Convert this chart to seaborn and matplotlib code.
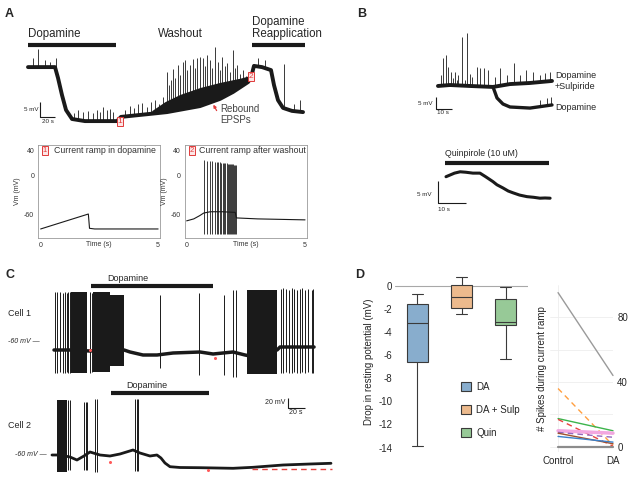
import numpy as np
import pandas as pd
import matplotlib.pyplot as plt
import seaborn as sns

W, H = 631, 484

# ---------------- panel A: dopamine / washout / reapplication (s, mV) ----------------
a_t = [0, 36, 40, 45.3, 50.7, 58.7, 76, 118.7, 124, 162.7, 185.3, 229.3, 256, 273.3, 293.3,
       297.3, 301.3, 312, 324, 328, 333.3, 340, 352, 366.7]
a_v = [19.3, 19.3, 15.7, 10, 5, 2, 1.3, 1.3, 2.7, 3.7, 4.3, 6.3, 8.7, 11, 14.3,
       15.7, 19.7, 19.3, 18.3, 13.3, 8.3, 5.7, 4.7, 4.3]
a_spk_t = [6.7, 13.3, 22.7, 29.3, 37.3,
           61.3, 66.7, 73.3, 80, 86.7, 92, 96, 100, 105.3, 109.3, 113.3,
           129.3, 136, 141.3, 146.7, 152, 158.7, 164, 169.3, 174.7, 180,
           185.3, 188, 190.7, 193.3, 196, 200, 202.7, 206.7, 209.3, 212, 216, 220, 222.7,
           225.3, 229.3, 233.3, 236, 238.7, 242.7, 245.3, 249.3, 253.3, 256, 258.7, 262.7,
           265.3, 269.3, 273.3, 276, 278.7, 282.7, 286.7, 290.7,
           306.7, 316, 341.3, 354.7, 362.7]
a_spk_v = [22.3, 25.3, 21.7, 21, 22.3,
           4, 5, 4.3, 4.7, 4, 5, 4.3, 6, 5, 5.3, 4.3,
           5, 6.3, 5.7, 7, 7.3, 6, 7.7, 8.3, 7, 9.3,
           17.7, 13.3, 15, 18.7, 15.7, 20, 16.7, 21, 21.7, 18.3, 20, 22, 19,
           22.3, 22.7, 22.3, 19.7, 23.3, 21.7, 19, 26, 21, 18.3, 22.7, 19.7,
           20.7, 17.7, 25, 19, 20, 17, 18.3, 16.3,
           22.3, 21.7, 20.3, 7, 8.3]
# upper edge of the dense EPSP barrage during washout
a_env_t = [165, 182.7, 202.7, 229.3, 256, 282.7, 296]
a_env_v = [4.8, 7.8, 10.2, 12.5, 14.2, 15.6, 16.5]

# current ramps (s, mV)
r1_t = [0, 2.03, 2.08, 2.3, 5.0]
r1_v = [-81.5, -58.5, -80.5, -81.5, -81.5]
r2_t = [0, 0.3, 0.55, 0.72, 1.0, 1.5, 2.05, 2.1, 3.0, 5.0]
r2_v = [-69, -66, -61, -57, -55, -55, -56, -64.5, -66, -67.5]
r2_spk_t = [0.74, 0.87, 0.98, 1.08, 1.18, 1.27, 1.34, 1.41, 1.47, 1.52, 1.58,
            1.63, 1.69, 1.75, 1.80, 1.84, 1.88, 1.93, 1.97, 2.01, 2.05, 2.08]
r2_spk_top = [24, 23.5, 23, 22.5, 22, 21.5, 21, 21, 20.5, 20, 20,
              19.5, 19.5, 19, 19, 18.5, 18.5, 18, 18, 17.5, 17.5, 17]
r2_spk_bot = -90

# ---------------- panel B ----------------
bu_t = [0, 7.5, 20, 34.4, 45, 57.5, 71.25]
bu_v = [10, 10.4, 10, 9.6, 10.8, 11.25, 12.1]
bl_t = [34.4, 36.9, 40.6, 45, 57.5, 71.25]
bl_v = [9.6, 5, 2.5, 1.25, 0.8, 2.1]
bu_spk_t = [1.9, 3.1, 5, 6.25, 8.1, 9.4, 10.6, 11.9, 12.5, 15, 16.9, 18.1, 20, 21.25, 24.4,
            26.25, 28.75, 31.25, 35.6, 38.75, 43.1, 47.5, 51.25, 55, 59.4, 63.75, 66.9, 70]
bu_spk_v = [14.6, 21.7, 22.9, 17.9, 15.8, 13.3, 15.8, 12.5, 14.6, 30.4, 12.5, 32.1, 15, 13.75, 17.9,
            17.5, 17.5, 16.7, 13.75, 17.5, 14.6, 19.6, 14.6, 16.7, 15.8, 14.6, 15.4, 15.8]
bl_spk_t = [63.75, 68.1, 70.6]
bl_spk_v = [4.2, 5, 5.4]

q_t = [0, 1.5, 3, 5, 7, 9.5, 12, 14, 16.6, 18, 20.1, 22, 23.7, 26, 28.6, 31, 33.2, 35, 36.8]
q_v = [5.2, 5.6, 6.0, 6.3, 6.2, 6.0, 6.0, 5.2, 4.1, 3.4, 2.7, 2.0, 1.6, 1.1, 0.75, 0.6, 0.4, 0.45, 0.4]

# ---------------- panel C ----------------
c1_t = [0, 18.8, 42.4, 65.9, 82.4, 89.4, 104.7, 121.2, 140, 171.8, 187.1, 210.6, 224.7,
        230.6, 244.7, 262.4, 265.9, 305.9]
c1_v = [-78, -78, -80, -78, -78, -82, -88, -88, -84, -82, -86, -82, -88,
        -90, -82, -78, -72, -72]
c1_spk_t = [1.2, 3.9, 7.1, 10.2, 12.9, 14.9, 16.8, 18.8, 42.4, 45.1, 124.7, 170.6,
            200, 211, 213.7, 266.7, 269.8, 272.9, 276.1, 279.6, 282.7, 285.5, 289.4,
            291.4, 295.3, 299.2, 303.2, 305.1]
c1_spk_top = [38, 38, 38, 36, 38, 36, 38, 38, 38, 36, 32, 36,
              32, 42, 42, 44, 46, 44, 42, 46, 44, 42, 44, 46, 42, 44, 42, 44]
c1_spk_bot = [-124, -124, -122, -124, -124, -122, -124, -124, -124, -122, -114, -128,
              -128, -132, -132, -124, -124, -122, -124, -124, -122, -124, -124, -122,
              -124, -122, -124, -124]
# bursts: start, end, top, bottom
c1_burst = [(19.6, 39.2, 38, -124), (46.2, 65.9, 38, -122), (65.9, 82.4, 32, -110),
            (226.7, 262.0, 42, -126)]
c1_marks_t = [42.4, 189.4]
c1_marks_v = [-78, -93]

c2_t = [0, 9.4, 21.2, 29.4, 37.6, 44.7, 56.5, 68.2, 80, 95.3, 103.5, 115.3, 123.5, 128.2,
        132.9, 138.8, 150.6, 174.1, 213, 236.5, 271.8, 303.5, 328.2]
c2_v = [-62, -62, -66, -72, -64, -56, -62, -64, -60, -52, -58, -64, -62, -68,
        -78, -85.4, -87, -87.4, -88.6, -86.6, -82, -80, -78.6]
c2_spk_t = [18.8, 21.2, 38, 40, 41.5, 50.6, 52.6, 97.6, 99.6, 101.2]
c2_spk_top = [48, 48, 44, 44, 44, 50, 50, 50, 50, 50]
c2_spk_bot = [-92, -92, -92, -92, -92, -96, -96, -94, -94, -94]
c2_burst = [(5.9, 17.6, 48, -96)]
c2_marks_t = [68.2, 183.5]
c2_marks_v = [-75, -91]
c2_ref_t = [235.3, 329.4]
c2_ref_v = [-90, -90]

# ---------------- panel D ----------------
box_cond = ["DA", "DA + Sulp", "Quin"]
box_colors = ["#7daed8", "#fcb97d", "#8fd18f"]
da_drop = [-13.9, -6.6, -3.2, -1.55, -0.7]
sulp_drop = [-2.4, -1.9, -0.95, 0.1, 0.75]
quin_drop = [-6.3, -3.4, -3.1, -1.1, -0.1]

ramp_cells = ["c1", "c2", "c3", "c4", "c5", "c6", "c7", "c8", "c9"]
spk_control = [95, 36, 17.5, 17, 10, 9, 8.5, 6.5, 0]
spk_da = [44, 1, 10, 0.5, 8.5, 6, 2, 3, 0]
cell_colors = ["#9a9a9a", "#ff9f40", "#3cb44b", "#e8423f", "#f2a7e0", "#9467bd", "#a0522d",
               "#3a80c9", "#8c8c8c"]
cell_dashed = [False, True, False, True, False, True, False, False, False]
cell_lw = [1.0, 1.0, 1.0, 1.0, 2.5, 1.0, 1.0, 1.0, 1.6]

sns.set_theme(style="white")
plt.rcParams["font.family"] = ["Liberation Sans", "DejaVu Sans"]
plt.rcParams["axes.unicode_minus"] = False

fig = plt.figure(figsize=(W / 100, H / 100), dpi=100)


def fx(x):
    return x / W


def fy(y):
    return 1 - y / H


def px_axes(x0, y0, x1, y1):
    return fig.add_axes([x0 / W, 1 - y1 / H, (x1 - x0) / W, (y1 - y0) / H])


def trace_axes(x0, y0, x1, y1, xlim, ylim):
    ax = px_axes(x0, y0, x1, y1)
    ax.set_xlim(xlim)
    ax.set_ylim(ylim)
    ax.axis("off")
    return ax


def trace(ax, t, v, lw=1.6, color="k", **kw):
    sns.lineplot(x=t, y=v, ax=ax, color=color, lw=lw, sort=False, estimator=None,
                 legend=False, **kw)


def spikes(ax, t, top, base_t, base_v, lw=0.6):
    base = np.interp(t, base_t, base_v)
    ax.vlines(t, base, top, color="k", lw=lw)


def scalebar(ax, x0, y0, dx, dy, lw=0.8):
    ax.plot([x0, x0, x0 + dx], [y0 + dy, y0, y0], color="k", lw=lw, solid_capstyle="butt")


def red_tag(ax, x, y, s, transform=None, fs=6):
    ax.text(x, y, s, color="#e03a3a", fontsize=fs, ha="center", va="center",
            transform=transform or ax.transData,
            bbox=dict(boxstyle="square,pad=0.12", fc="#fde6e6", ec="#e03a3a", lw=0.7))


# ---------------- A ----------------
fig.text(fx(5), fy(14), "A", fontsize=9, fontweight="bold", va="center")
axa = trace_axes(20, 20, 320, 140, (-10.67, 389.33), (-5, 35))
trace(axa, a_t, a_v, lw=2.8)
env_base = np.interp(a_env_t, a_t, a_v)
axa.fill_between(a_env_t, env_base, a_env_v, color="k", lw=0)
spikes(axa, a_spk_t, a_spk_v, a_t, a_v)
axa.plot([0, 117.3], [26.7, 26.7], color="k", lw=3, solid_capstyle="butt")
axa.plot([298.7, 369.3], [26.7, 26.7], color="k", lw=3, solid_capstyle="butt")
axa.text(0, 28.2, "Dopamine", fontsize=8.3, va="bottom")
axa.text(202.7, 28.2, "Washout", fontsize=8.3, va="bottom", ha="center")
axa.text(298.7, 28.2, "Dopamine\nReapplication", fontsize=8.3, va="bottom", linespacing=1.05)
scalebar(axa, 16, 2.7, 20, 5)
axa.text(14, 5.2, "5 mV", fontsize=4.5, ha="right", va="center")
axa.text(18, 2.0, "20 s", fontsize=4.5, ha="left", va="top")
red_tag(axa, 122.7, 1.3, "1")
red_tag(axa, 297.3, 16, "2")
axa.annotate("", xy=(245.3, 7.6), xytext=(253.3, 4.0),
             arrowprops=dict(arrowstyle="-|>", color="#e03a3a", lw=0.9, mutation_scale=4))
axa.text(256, 7.0, "Rebound\nEPSPs", fontsize=7, va="top", color="#444444", linespacing=1.1)


def ramp_axes(x0, x1):
    ax = px_axes(x0, 145, x1, 238)
    ax.set_ylim(-95.4, 47.7)
    ax.set_xticks([0, 5])
    ax.set_yticks([-60, 0, 40])
    ax.tick_params(labelsize=5, length=1.5, width=0.5, pad=1.5, colors="#333333")
    for s in ax.spines.values():
        s.set_color("#9a9a9a")
        s.set_linewidth(0.6)
    ax.set_xlabel("Time (s)", fontsize=5, labelpad=-6, color="#333333")
    ax.set_ylabel("Vm (mV)", fontsize=5, labelpad=2, color="#333333")
    return ax


axr1 = ramp_axes(38.3, 160)
axr1.set_xlim(-0.1, 5.08)
trace(axr1, r1_t, r1_v, lw=0.8)
red_tag(axr1, 0.055, 0.94, "1", transform=axr1.transAxes, fs=5.5)
axr1.text(0.125, 0.94, "Current ramp in dopamine", transform=axr1.transAxes,
          fontsize=6.3, va="center", color="#333333")

axr2 = ramp_axes(185, 306.7)
axr2.set_xlim(-0.07, 5.07)
trace(axr2, r2_t, r2_v, lw=0.8)
axr2.vlines(r2_spk_t, r2_spk_bot, r2_spk_top, color="k", lw=0.6)
red_tag(axr2, 0.055, 0.94, "2", transform=axr2.transAxes, fs=5.5)
axr2.text(0.115, 0.94, "Current ramp after washout", transform=axr2.transAxes,
          fontsize=6.3, va="center", color="#333333")

# ---------------- B ----------------
fig.text(fx(357), fy(14), "B", fontsize=9, fontweight="bold", va="center")
axb = trace_axes(405, 25, 560, 120, (-20.6, 76.25), (-4.17, 35.4))
trace(axb, bu_t, bu_v, lw=2.8)
trace(axb, bl_t, bl_v, lw=2.4)
spikes(axb, bu_spk_t, bu_spk_v, bu_t, bu_v)
spikes(axb, bl_spk_t, bl_spk_v, bl_t, bl_v)
axb.text(73.1, 14.2, "Dopamine", fontsize=6.5, va="center")
axb.text(73.1, 9.6, "+Sulpiride", fontsize=6.5, va="center")
axb.text(73.1, 0.9, "Dopamine", fontsize=6.5, va="center")
scalebar(axb, -1.25, 0.4, 10, 5)
axb.text(-3.5, 2.6, "5 mV", fontsize=4.5, ha="right", va="center")
axb.text(-0.6, -0.2, "10 s", fontsize=4.5, va="top")

axq = trace_axes(405, 140, 560, 220, (-14.5, 40.3), (-4.47, 13.4))
trace(axq, q_t, q_v, lw=2.2)
axq.plot([-0.35, 36.4], [8.35, 8.35], color="k", lw=3, solid_capstyle="butt")
axq.text(-0.35, 9.3, "Quinpirole (10 uM)", fontsize=6.3, va="bottom")
scalebar(axq, -2.83, -0.74, 10, 5)
axq.text(-5.0, 1.27, "5 mV", fontsize=4.5, ha="right", va="center")
axq.text(-2.83, -1.6, "10 s", fontsize=4.5, va="top")

# ---------------- C ----------------
fig.text(fx(5), fy(275), "C", fontsize=9, fontweight="bold", va="center")
axc1 = trace_axes(45, 270, 320, 380, (-10.6, 312.9), (-138, 82))
for t0, t1, top, bot in c1_burst:
    axc1.fill_between([t0, t1], [bot, bot], [top, top], color="k", lw=0)
trace(axc1, c1_t, c1_v, lw=2.5)
axc1.vlines(c1_spk_t, c1_spk_bot, c1_spk_top, color="k", lw=0.7)
axc1.plot(c1_marks_t, c1_marks_v, "o", color="#ff5a5a", ms=1.2)
axc1.plot([43.2, 187.4], [50.6, 50.6], color="k", lw=3, solid_capstyle="butt")
axc1.text(86.7, 56, "Dopamine", fontsize=6.5, ha="center", va="bottom")
fig.text(fx(8), fy(313), "Cell 1", fontsize=6.5, va="center")
fig.text(fx(8), fy(341.7), "-60 mV \u2014", fontsize=5, va="center", style="italic")

axc2 = trace_axes(45, 380, 340, 480, (-8.2, 338.8), (-112, 88))
for t0, t1, top, bot in c2_burst:
    axc2.fill_between([t0, t1], [bot, bot], [top, top], color="k", lw=0)
trace(axc2, c2_t, c2_v, lw=2.0)
axc2.vlines(c2_spk_t, c2_spk_bot, c2_spk_top, color="k", lw=0.7)
sns.lineplot(x=c2_ref_t, y=c2_ref_v, ax=axc2, color="#e8423f", lw=1.0,
             estimator=None, legend=False)
axc2.lines[-1].set_linestyle((0, (4, 3)))
axc2.plot(c2_marks_t, c2_marks_v, "o", color="#ff5a5a", ms=1.2)
axc2.plot([69, 184.7], [61.4, 61.4], color="k", lw=3, solid_capstyle="butt")
axc2.text(111.4, 67, "Dopamine", fontsize=6.5, ha="center", va="bottom")
scalebar(axc2, 277.3, 32.6, 20, 20)
axc2.text(274, 42, "20 mV", fontsize=5, ha="right", va="center")
axc2.text(279, 30, "20 s", fontsize=5, va="top")
fig.text(fx(8), fy(426), "Cell 2", fontsize=6.5, va="center")
fig.text(fx(15), fy(454.3), "-60 mV \u2014", fontsize=5, va="center", style="italic")

# ---------------- D ----------------
fig.text(fx(355), fy(275), "D", fontsize=9, fontweight="bold", va="center")
box_df = pd.DataFrame({
    "cond": [box_cond[0]] * 5 + [box_cond[1]] * 5 + [box_cond[2]] * 5,
    "drop": da_drop + sulp_drop + quin_drop,
})
axd = px_axes(395, 272, 528, 452)
axd.axhline(0, color="#a8a8a8", lw=0.8, zorder=0)
sns.boxplot(data=box_df, x="cond", y="drop", hue="cond", palette=box_colors,
            width=0.48, linewidth=0.8, linecolor="#3a3a3a", ax=axd, legend=True)
axd.set_xlim(-0.51, 2.51)
axd.set_ylim(-14.39, 1.21)
axd.set_yticks(np.arange(-14, 1, 2))
axd.set_xticks([])
axd.set_xlabel("")
axd.set_ylabel("Drop in resting potential (mV)", fontsize=7, labelpad=3)
axd.tick_params(axis="y", labelsize=7, length=0, pad=2)
sns.despine(ax=axd, left=True, bottom=True)
sns.move_legend(axd, "upper left", bbox_to_anchor=(0.43, 0.44), frameon=False, title=None,
                fontsize=7, labelspacing=1.35, handlelength=1.0, handleheight=1.0,
                handletextpad=0.6)

axs = px_axes(549.8, 285, 613, 452)
for i, cell in enumerate(ramp_cells):
    sns.lineplot(x=[0, 1], y=[spk_control[i], spk_da[i]], ax=axs, color=cell_colors[i],
                 lw=cell_lw[i], estimator=None, legend=False, zorder=3)
    if cell_dashed[i]:
        axs.lines[-1].set_linestyle((0, (4, 3)))
    axs.lines[-1].set_clip_on(False)
axs.set_xlim(-0.15, 1.0)
axs.set_ylim(-3.08, 99.7)
axs.set_xticks([0, 1])
axs.set_xticklabels(["Control", "DA"])
axs.set_yticks([0, 40, 80])
axs.set_yticks([20, 60], minor=True)
axs.yaxis.tick_right()
axs.yaxis.set_label_position("left")
axs.set_ylabel("# Spikes during current ramp", fontsize=7, labelpad=2)
axs.tick_params(axis="both", which="both", labelsize=7, length=0, pad=3)
axs.grid(True, which="both", color="#eeeeee", lw=0.6)
sns.despine(ax=axs, left=True, bottom=True)

fig.savefig("out.png", dpi=100)
